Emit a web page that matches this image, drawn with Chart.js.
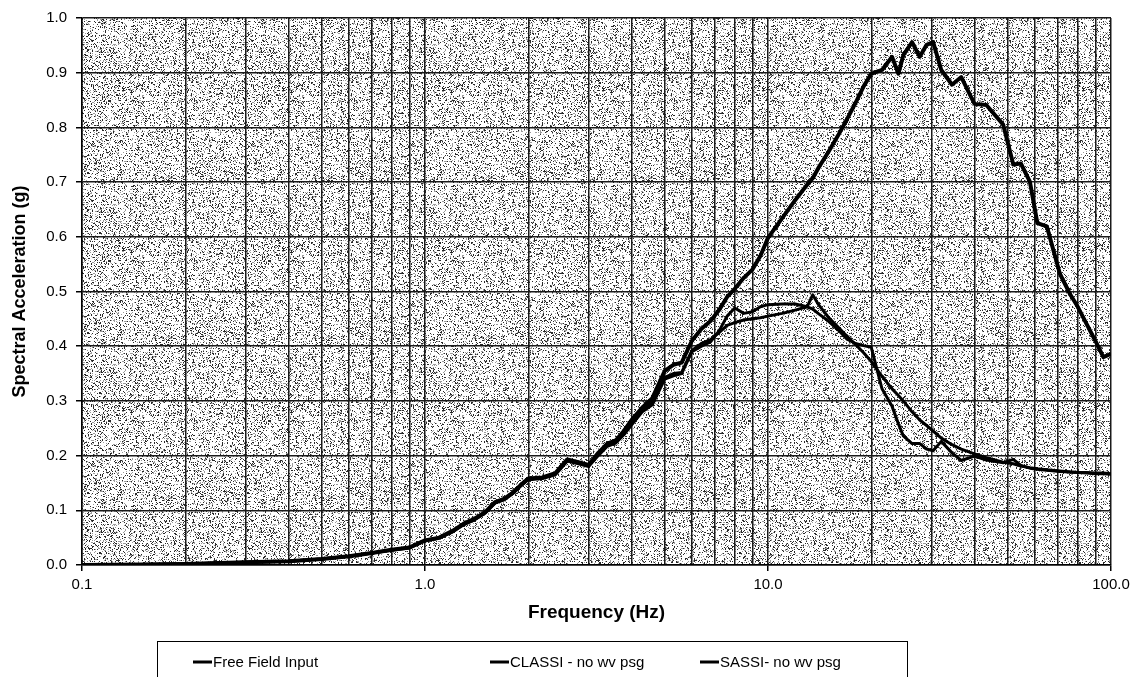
<!DOCTYPE html>
<html>
<head>
<meta charset="utf-8">
<title>Spectral Acceleration</title>
<script src="https://cdn.jsdelivr.net/npm/chart.js@4.4.1/dist/chart.umd.min.js"></script>
<style>
  html, body { margin: 0; padding: 0; background: #fff; }
  #wrap { width: 1137px; height: 677px; }
</style>
</head>
<body>
<div id="wrap"><canvas id="chart" width="1137" height="677"></canvas></div>
<script>
// frequencies (Hz) shared by the three spectra
const frequencies = [
  0.1, 0.15, 0.2, 0.3, 0.4, 0.5, 0.6, 0.7, 0.8, 0.9,
  1.0, 1.1, 1.2, 1.3, 1.4, 1.5, 1.6, 1.7, 1.8, 1.9,
  2.0, 2.2, 2.4, 2.6, 2.8, 3.0, 3.2, 3.4, 3.6, 3.8,
  4.0, 4.3, 4.6, 5.0, 5.3, 5.6, 6.0, 6.4, 6.8, 7.2,
  7.6, 8.0, 8.5, 9.0, 9.5, 10, 11, 12, 13, 13.5,
  14, 15, 16, 17, 18, 19, 20, 21.5, 23, 24,
  24.8, 26.3, 27.7, 29, 30.3, 32, 34.4, 36.6, 40, 43.3,
  48.5, 51.9, 54.6, 58, 61, 65, 71, 76, 80, 85,
  90, 95, 100
];

const freeFieldInput = [
  0.000, 0.001, 0.002, 0.005, 0.007, 0.011, 0.016, 0.022, 0.028, 0.032,
  0.045, 0.050, 0.062, 0.076, 0.085, 0.097, 0.115, 0.121, 0.132, 0.146,
  0.158, 0.160, 0.168, 0.193, 0.188, 0.183, 0.205, 0.222, 0.228, 0.245,
  0.265, 0.288, 0.305, 0.355, 0.366, 0.370, 0.410, 0.432, 0.446, 0.466,
  0.490, 0.505, 0.525, 0.540, 0.565, 0.598, 0.634, 0.667, 0.695, 0.707,
  0.725, 0.755, 0.785, 0.815, 0.845, 0.875, 0.898, 0.905, 0.929, 0.898,
  0.932, 0.956, 0.929, 0.951, 0.956, 0.905, 0.878, 0.892, 0.843, 0.841,
  0.805, 0.732, 0.734, 0.701, 0.625, 0.619, 0.532, 0.495, 0.472, 0.440,
  0.410, 0.380, 0.386
];

const classiNoWvPsg = [
  0.000, 0.001, 0.002, 0.005, 0.007, 0.011, 0.016, 0.022, 0.027, 0.031,
  0.044, 0.049, 0.060, 0.074, 0.083, 0.095, 0.113, 0.119, 0.130, 0.144,
  0.156, 0.158, 0.165, 0.190, 0.185, 0.180, 0.200, 0.217, 0.223, 0.238,
  0.256, 0.280, 0.293, 0.340, 0.346, 0.350, 0.390, 0.400, 0.408, 0.428,
  0.455, 0.470, 0.460, 0.463, 0.472, 0.476, 0.477, 0.477, 0.472, 0.468,
  0.460, 0.446, 0.430, 0.413, 0.405, 0.401, 0.398, 0.322, 0.290, 0.258,
  0.236, 0.222, 0.222, 0.212, 0.209, 0.226, 0.205, 0.191, 0.199, 0.192,
  0.187, 0.193, 0.182, 0.177, 0.175, 0.173, 0.171, 0.170, 0.169, 0.169,
  0.168, 0.168, 0.167
];

const sassiNoWvPsg = [
  0.000, 0.001, 0.002, 0.005, 0.007, 0.011, 0.016, 0.022, 0.028, 0.032,
  0.045, 0.050, 0.061, 0.075, 0.084, 0.096, 0.114, 0.120, 0.131, 0.145,
  0.157, 0.159, 0.167, 0.191, 0.187, 0.182, 0.203, 0.220, 0.226, 0.242,
  0.260, 0.284, 0.297, 0.343, 0.350, 0.352, 0.392, 0.405, 0.412, 0.425,
  0.438, 0.443, 0.448, 0.450, 0.452, 0.455, 0.460, 0.466, 0.472, 0.494,
  0.477, 0.453, 0.435, 0.418, 0.403, 0.388, 0.372, 0.345, 0.322, 0.310,
  0.300, 0.280, 0.265, 0.255, 0.245, 0.232, 0.220, 0.212, 0.203, 0.196,
  0.188, 0.185, 0.181, 0.178, 0.176, 0.174, 0.172, 0.170, 0.169, 0.168,
  0.167, 0.167, 0.166
];

const seriesLabels = ['Free Field Input', 'CLASSI - no wv psg', 'SASSI- no wv psg'];

// vertical grid lines (log decades and their multiples) and the labelled ones
const xGridValues = [
  0.1, 0.2, 0.3, 0.4, 0.5, 0.6, 0.7, 0.8, 0.9,
  1, 2, 3, 4, 5, 6, 7, 8, 9,
  10, 20, 30, 40, 50, 60, 70, 80, 90,
  100
];
const xLabelledValues = [0.1, 1, 10, 100];
const xTickLabels = ['0.1', '1.0', '10.0', '100.0'];

const toPoints = (vals) => frequencies.map((f, i) => ({ x: f, y: vals[i] }));

// grey stipple like the scanned plot area (fixed seed so it is the same every time)
function makeStipple() {
  const size = 160;
  const c = document.createElement('canvas');
  c.width = size; c.height = size;
  const g = c.getContext('2d');
  const img = g.createImageData(size, size);
  let s = 20240601;
  for (let i = 0; i < size * size; i++) {
    s = (Math.imul(s, 1103515245) + 12345) >>> 0;
    const r = (s >>> 16) % 100;
    let v = 255;
    if (r < 14) v = 40;
    else if (r < 26) v = 155;
    img.data[i * 4] = v;
    img.data[i * 4 + 1] = v;
    img.data[i * 4 + 2] = v;
    img.data[i * 4 + 3] = 255;
  }
  g.putImageData(img, 0, 0);
  return c;
}

const plotBackground = {
  id: 'plotBackground',
  beforeDraw(chart) {
    const { ctx, chartArea: a } = chart;
    ctx.save();
    ctx.fillStyle = ctx.createPattern(makeStipple(), 'repeat');
    ctx.fillRect(a.left, a.top, a.right - a.left, a.bottom - a.top);
    ctx.restore();
  }
};

// legend box under the chart, as in the original sheet
const boxLegend = {
  id: 'boxLegend',
  afterDraw(chart) {
    const { ctx } = chart;
    const itemX = [193, 490, 700];
    const y = 662;
    ctx.save();
    ctx.strokeStyle = '#000';
    ctx.lineWidth = 1;
    ctx.strokeRect(157.5, 641.5, 750, 60);
    ctx.font = '15px "Liberation Sans", Arial, sans-serif';
    ctx.fillStyle = '#000';
    ctx.textBaseline = 'middle';
    chart.data.datasets.forEach((ds, i) => {
      ctx.beginPath();
      ctx.lineWidth = 3;
      ctx.moveTo(itemX[i], y);
      ctx.lineTo(itemX[i] + 19, y);
      ctx.stroke();
      ctx.fillText(ds.label, itemX[i] + 20, y + 1);
    });
    ctx.restore();
  }
};

new Chart(document.getElementById('chart'), {
  type: 'line',
  data: {
    datasets: [
      { label: seriesLabels[0], data: toPoints(freeFieldInput), borderColor: '#000', borderWidth: 4 },
      { label: seriesLabels[1], data: toPoints(classiNoWvPsg), borderColor: '#000', borderWidth: 3 },
      { label: seriesLabels[2], data: toPoints(sassiNoWvPsg), borderColor: '#000', borderWidth: 3 }
    ]
  },
  options: {
    responsive: false,
    animation: false,
    devicePixelRatio: 1,
    layout: { padding: { left: 2, top: 16, right: 26, bottom: 50 } },
    elements: {
      point: { radius: 0 },
      line: { tension: 0, fill: false, borderJoinStyle: 'round' }
    },
    plugins: {
      legend: { display: false },
      tooltip: { enabled: false }
    },
    scales: {
      x: {
        type: 'logarithmic',
        min: 0.1,
        max: 100,
        afterBuildTicks: (scale) => { scale.ticks = xGridValues.map(v => ({ value: v })); },
        afterFit: (scale) => { scale.height = 62; },
        ticks: {
          autoSkip: false,
          maxRotation: 0,
          padding: 5,
          color: '#000',
          font: { family: '"Liberation Sans", Arial, sans-serif', size: 15 },
          callback: (value) => {
            const i = xLabelledValues.indexOf(value);
            return i >= 0 ? xTickLabels[i] : '';
          }
        },
        grid: {
          color: '#1a1a1a',
          lineWidth: 1.5,
          tickLength: 6,
          tickColor: (ctx) => (ctx.tick && xLabelledValues.includes(ctx.tick.value)) ? '#000' : 'rgba(0,0,0,0)'
        },
        border: { display: true, color: '#000', width: 1.5 },
        title: {
          display: true,
          text: 'Frequency (Hz)',
          color: '#000',
          padding: { top: 0, bottom: 3 },
          font: { family: '"Liberation Sans", Arial, sans-serif', size: 19, weight: 'bold' }
        }
      },
      y: {
        min: 0,
        max: 1,
        afterFit: (scale) => { scale.width = 80; },
        ticks: {
          stepSize: 0.1,
          padding: 9,
          color: '#000',
          font: { family: '"Liberation Sans", Arial, sans-serif', size: 15 },
          callback: (value) => value.toFixed(1)
        },
        grid: { color: '#1a1a1a', lineWidth: 1.5, tickLength: 6, tickColor: '#000' },
        border: { display: true, color: '#000', width: 1.5 },
        title: {
          display: true,
          text: 'Spectral Acceleration (g)',
          color: '#000',
          padding: { top: 7, bottom: 0 },
          font: { family: '"Liberation Sans", Arial, sans-serif', size: 18, weight: 'bold' }
        }
      }
    }
  },
  plugins: [plotBackground, boxLegend]
});
</script>
</body>
</html>
